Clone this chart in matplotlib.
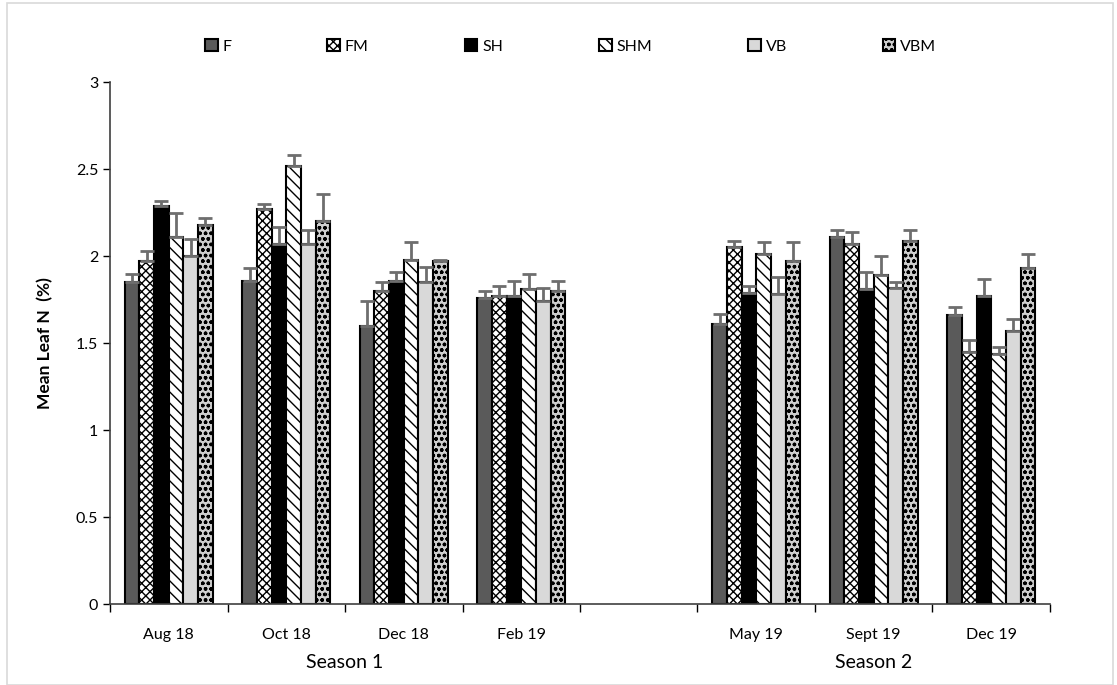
import numpy as np
import matplotlib.pyplot as plt
from matplotlib.patches import Rectangle

plt.rcParams['font.family'] = ['Lato', 'DejaVu Sans']
plt.rcParams['hatch.linewidth'] = 1.0

months = ['Aug 18', 'Oct 18', 'Dec 18', 'Feb 19', '', 'May 19', 'Sept 19', 'Dec 19']
series = ['F', 'FM', 'SH', 'SHM', 'VB', 'VBM']

# rows = series, columns = months (empty slot between seasons is NaN)
means = {
    'F':   [1.85, 1.86, 1.60, 1.76, np.nan, 1.61, 2.11, 1.66],
    'FM':  [1.97, 2.27, 1.80, 1.77, np.nan, 2.05, 2.07, 1.45],
    'SH':  [2.29, 2.07, 1.86, 1.77, np.nan, 1.79, 1.81, 1.77],
    'SHM': [2.11, 2.52, 1.98, 1.81, np.nan, 2.01, 1.89, 1.44],
    'VB':  [2.00, 2.07, 1.85, 1.74, np.nan, 1.78, 1.82, 1.57],
    'VBM': [2.18, 2.20, 1.97, 1.80, np.nan, 1.97, 2.09, 1.93],
}
errs = {
    'F':   [0.05, 0.07, 0.14, 0.04, np.nan, 0.06, 0.04, 0.05],
    'FM':  [0.06, 0.03, 0.05, 0.06, np.nan, 0.04, 0.07, 0.07],
    'SH':  [0.03, 0.10, 0.05, 0.09, np.nan, 0.04, 0.10, 0.10],
    'SHM': [0.14, 0.06, 0.10, 0.09, np.nan, 0.07, 0.11, 0.04],
    'VB':  [0.10, 0.08, 0.09, 0.08, np.nan, 0.10, 0.03, 0.07],
    'VBM': [0.04, 0.16, 0.01, 0.06, np.nan, 0.11, 0.06, 0.08],
}
seasons = ['Season 1', 'Season 2']
season_centers = [1.5, 6.0]

styles = {
    'F':   dict(color='#5a5a5a', hatch=None),
    'FM':  dict(color='white', hatch='xxxx'),
    'SH':  dict(color='black', hatch=None),
    'SHM': dict(color='white', hatch='\\\\\\'),
    'VB':  dict(color='#d9d9d9', hatch=None),
    'VBM': dict(color='#cfcfcf', hatch='ooo'),
}

fig = plt.figure(figsize=(11.17, 6.85), dpi=100)
ax = fig.add_axes([0.0985, 0.118, 0.8415, 0.762])

x = np.arange(len(months))
w = 0.125
for i, s in enumerate(series):
    pos = x - 0.375 + w * (i + 0.5)
    st = styles[s]
    ax.bar(pos, means[s], w, color=st['color'], hatch=st['hatch'],
           edgecolor='black', linewidth=1.5, label=s, zorder=2)
    ax.errorbar(pos, means[s], yerr=[np.zeros(len(months)), errs[s]],
                fmt='none', ecolor='#6e6e6e', elinewidth=2, capsize=5,
                capthick=2, zorder=3)

ax.set_xlim(-0.5, len(months) - 0.5)
ax.set_ylim(0, 3)
ax.set_yticks(np.arange(0, 3.01, 0.5))
ax.set_yticklabels(['0', '0.5', '1', '1.5', '2', '2.5', '3'])
ax.set_xticks(x)
ax.set_xticklabels(months)
ax.set_xticks(np.arange(-0.5, len(months)), minor=True)
ax.tick_params(axis='x', which='major', length=0, pad=17, labelsize=11.5)
ax.tick_params(axis='x', which='minor', length=6, width=1, direction='out')
ax.tick_params(axis='y', length=5, width=1, direction='out', labelsize=11.5)
for sp in ['top', 'right']:
    ax.spines[sp].set_visible(False)
for sp in ['left', 'bottom']:
    ax.spines[sp].set_color('#404040')
    ax.spines[sp].set_linewidth(1.2)

ax.set_ylabel('Mean Leaf N  (%)', fontsize=12.5, fontweight='bold', labelpad=16)

for name, c in zip(seasons, season_centers):
    ax.text(c, -0.112, name, ha='center', va='center', fontsize=14,
            transform=ax.get_xaxis_transform())

ax.legend(loc='upper center', bbox_to_anchor=(0.49, 1.11), ncol=6,
          frameon=False, fontsize=11.5, handlelength=0.8, handleheight=0.8,
          handletextpad=0.3, columnspacing=6.0)

fig.patches.append(Rectangle((0.006, 0.0), 0.99, 0.995, transform=fig.transFigure,
                             fill=False, edgecolor='#d9d9d9', linewidth=1.2))

fig.savefig('out.png', dpi=100)
